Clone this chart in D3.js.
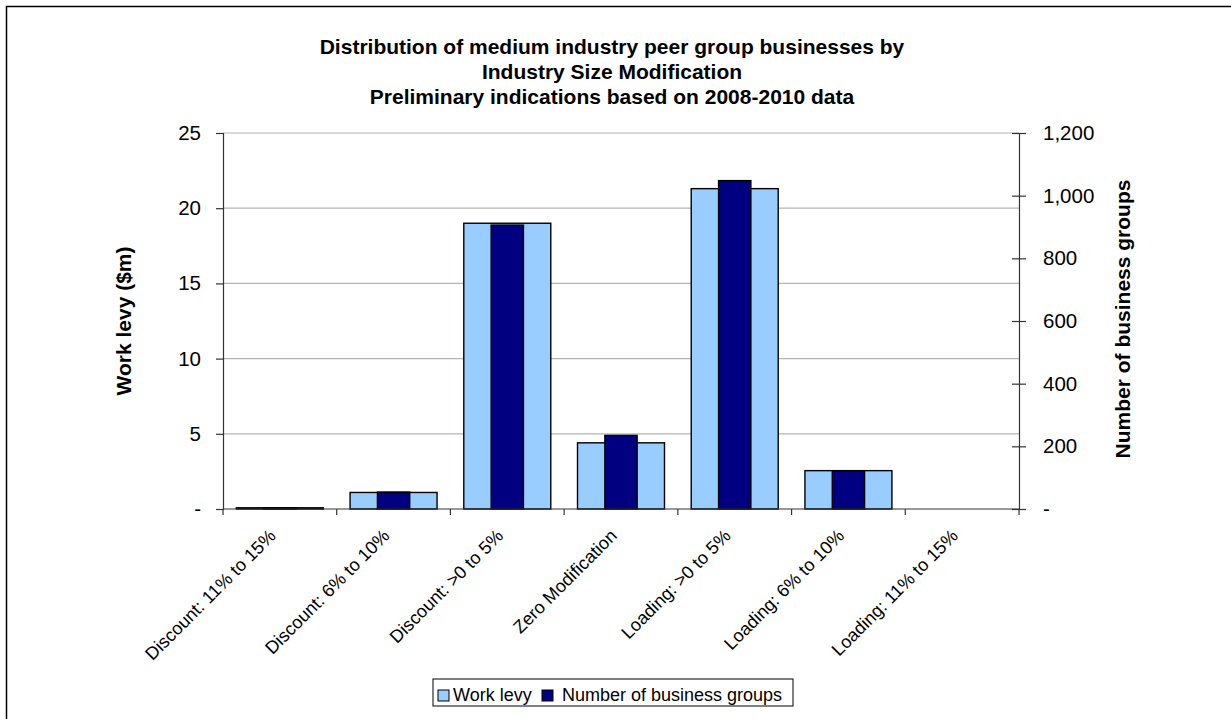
<!DOCTYPE html>
<html>
<head>
<meta charset="utf-8">
<script src="https://cdn.jsdelivr.net/npm/d3@7"></script>
<style>
  html, body { margin: 0; padding: 0; background: #fff; }
  svg { display: block; font-family: Arial, "Liberation Sans", sans-serif; }
</style>
</head>
<body>
<svg id="chart" width="1231" height="719"></svg>
<script>
const titleLines = [
  "Distribution of medium industry peer group businesses by",
  "Industry Size Modification",
  "Preliminary indications based on 2008-2010 data"
];
const categories = [
  "Discount: 11% to 15%",
  "Discount: 6% to 10%",
  "Discount: >0 to 5%",
  "Zero Modification",
  "Loading: >0 to 5%",
  "Loading: 6% to 10%",
  "Loading: 11% to 15%"
];
const workLevy = [0.08, 1.1, 19.0, 4.4, 21.3, 2.55, 0];
const businessGroups = [3, 54, 906, 235, 1048, 122, 0];
const leftTicks = [0, 5, 10, 15, 20, 25];
const rightTicks = [0, 200, 400, 600, 800, 1000, 1200];
const seriesNames = ["Work levy", "Number of business groups"];
const colors = ["#99CCFF", "#000080"];

const svg = d3.select("#chart");
const L = 223, R = 1019, T = 133, B = 509;

// outer border
svg.append("rect").attr("x", 6.5).attr("y", 6.5).attr("width", 1240).attr("height", 730)
  .attr("fill", "#fff").attr("stroke", "#000").attr("stroke-width", 1.5);

// title
svg.append("g").selectAll("text").data(titleLines).join("text")
  .attr("x", 612).attr("y", (d, i) => 54 + i * 25)
  .attr("text-anchor", "middle").attr("font-weight", "bold").attr("font-size", 21)
  .text(d => d);

const x = d3.scaleBand().domain(categories).range([L, R]).padding(0);
const xLight = d3.scaleBand().domain(categories).range([L, R]).paddingInner(0.235).paddingOuter(0.1175);
const xDark = d3.scaleBand().domain(categories).range([L, R]).paddingInner(0.716).paddingOuter(0.358);
const yL = d3.scaleLinear().domain([0, 25]).range([B, T]);
const yR = d3.scaleLinear().domain([0, 1200]).range([B, T]);
const fmt = d => d === 0 ? "-" : d3.format(",")(d);

// gridlines
svg.append("g").selectAll("line").data(leftTicks.filter(d => d > 0)).join("line")
  .attr("x1", L).attr("x2", R).attr("y1", d => yL(d)).attr("y2", d => yL(d))
  .attr("stroke", "#b4b4b4").attr("stroke-width", 1.2);

// bars: work levy
svg.append("g").selectAll("rect").data(workLevy).join("rect")
  .attr("x", (d, i) => xLight(categories[i]))
  .attr("width", xLight.bandwidth())
  .attr("y", d => yL(d))
  .attr("height", d => B - yL(d))
  .attr("fill", colors[0])
  .attr("stroke", d => d > 0 ? "#000" : "none").attr("stroke-width", 1.4);

// bars: number of business groups
svg.append("g").selectAll("rect").data(businessGroups).join("rect")
  .attr("x", (d, i) => xDark(categories[i]))
  .attr("width", xDark.bandwidth())
  .attr("y", d => yR(d))
  .attr("height", d => B - yR(d))
  .attr("fill", colors[1])
  .attr("stroke", d => d > 0 ? "#000" : "none").attr("stroke-width", 1.4);

// left axis
const gL = svg.append("g").attr("transform", `translate(${L},0)`)
  .call(d3.axisLeft(yL).tickValues(leftTicks).tickFormat(fmt).tickSize(7).tickPadding(15));
gL.select(".domain").attr("stroke", "#333").attr("stroke-width", 1.2);
gL.selectAll(".tick line").attr("stroke", "#333").attr("stroke-width", 1.2);
gL.selectAll("text").attr("font-size", 20.5).attr("fill", "#000").attr("font-family", null);

// right axis
const gR = svg.append("g").attr("transform", `translate(${R},0)`)
  .call(d3.axisRight(yR).tickValues(rightTicks).tickFormat(fmt).tickSize(7).tickPadding(17));
gR.select(".domain").attr("stroke", "#333").attr("stroke-width", 1.2);
gR.selectAll(".tick line").attr("x1", -7).attr("stroke", "#333").attr("stroke-width", 1.2);
gR.selectAll("text").attr("font-size", 20.5).attr("fill", "#000").attr("font-family", null);

// x axis
const gX = svg.append("g").attr("transform", `translate(0,${B})`);
gX.append("line").attr("x1", L).attr("x2", R).attr("y1", 0).attr("y2", 0)
  .attr("stroke", "#333").attr("stroke-width", 1.2);
const bounds = categories.map(c => x(c)).concat([R]);
gX.selectAll("line.t").data(bounds).join("line").attr("class", "t")
  .attr("x1", d => d).attr("x2", d => d).attr("y1", 0).attr("y2", 6)
  .attr("stroke", "#333").attr("stroke-width", 1.2);
gX.selectAll("text").data(categories).join("text")
  .attr("transform", d => `translate(${x(d) + x.bandwidth() / 2 - 3},${28}) rotate(-45)`)
  .attr("text-anchor", "end").attr("font-size", 18).text(d => d);

// axis titles
svg.append("text").attr("transform", "translate(131,321) rotate(-90)")
  .attr("text-anchor", "middle").attr("font-weight", "bold").attr("font-size", 21)
  .text("Work levy ($m)");
svg.append("text").attr("transform", "translate(1130,319) rotate(-90)")
  .attr("text-anchor", "middle").attr("font-weight", "bold").attr("font-size", 21)
  .text("Number of business groups");

// legend
const lg = svg.append("g");
lg.append("rect").attr("x", 433).attr("y", 679).attr("width", 360).attr("height", 27)
  .attr("fill", "#fff").attr("stroke", "#000").attr("stroke-width", 1);
const legX = [438, 542];
seriesNames.forEach((s, i) => {
  lg.append("rect").attr("x", legX[i]).attr("y", 690).attr("width", 11).attr("height", 11)
    .attr("fill", colors[i]).attr("stroke", "#000").attr("stroke-width", 1);
  lg.append("text").attr("x", legX[i] + 15 + (i ? 5 : 0)).attr("y", 701).attr("font-size", 18).text(s);
});
</script>
</body>
</html>
